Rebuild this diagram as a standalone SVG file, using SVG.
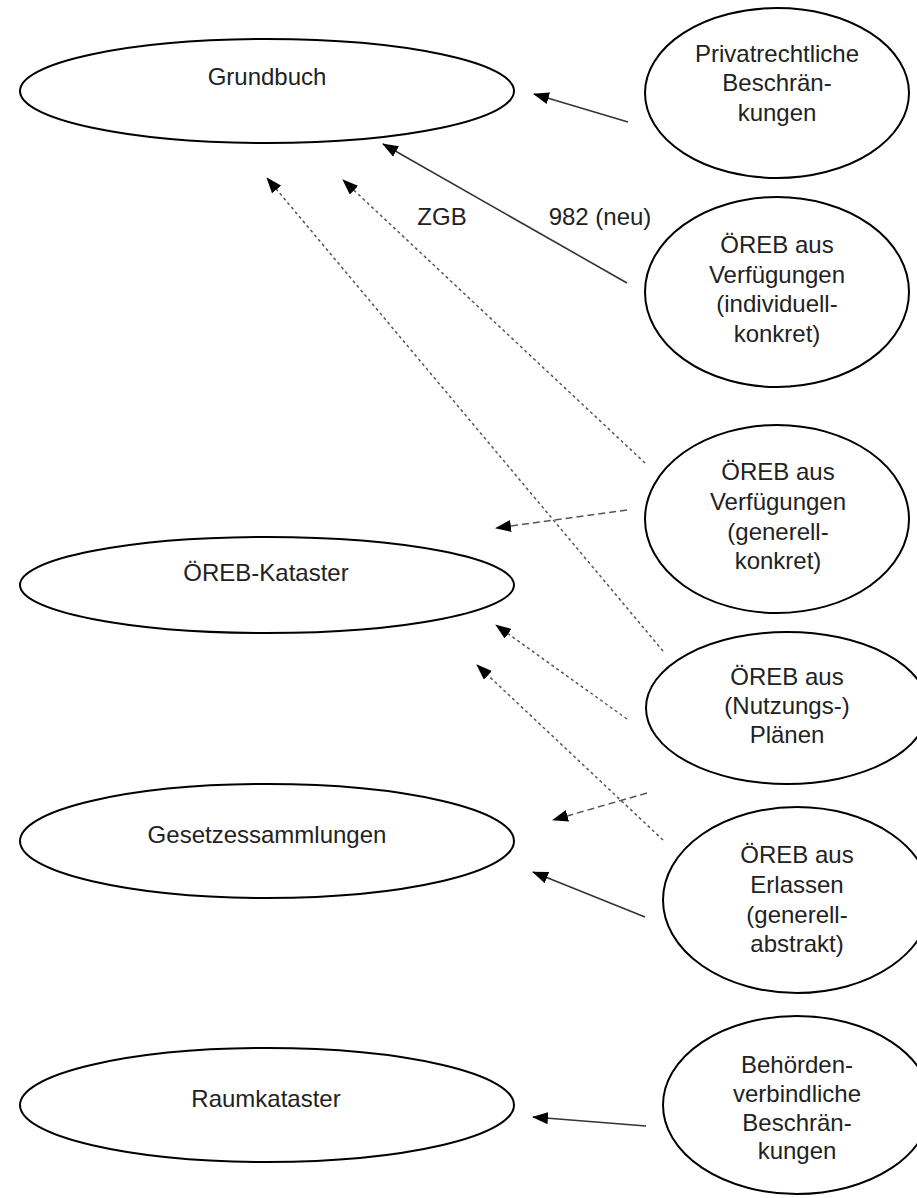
<svg xmlns="http://www.w3.org/2000/svg" width="917" height="1198" viewBox="0 0 917 1198">
<style>
.node ellipse{fill:#fff;stroke:#000;stroke-width:2}
text{font-family:"Liberation Sans",Arial,sans-serif;font-size:24px;fill:#222;text-anchor:middle}
.solid{stroke:#333;stroke-width:1.6;fill:none}
.dot{stroke:#555;stroke-width:1.5;stroke-dasharray:3 3;fill:none}
.dash{stroke:#555;stroke-width:1.5;stroke-dasharray:7 4;fill:none}
</style>
<defs>
<marker id="ah" viewBox="0 0 16 12" refX="15" refY="6" markerWidth="16" markerHeight="12" markerUnits="userSpaceOnUse" orient="auto">
<path d="M0,0 L16,6 L0,12 z" fill="#000"/>
</marker>
</defs>
<rect width="917" height="1198" fill="#fff"/>

<g id="connectors">
<line class="solid" x1="628" y1="122" x2="534" y2="94" marker-end="url(#ah)"/>
<line class="solid" x1="627" y1="283" x2="383" y2="144" marker-end="url(#ah)"/>
<line class="dot" x1="645" y1="463" x2="343" y2="180" marker-end="url(#ah)"/>
<line class="dot" x1="663" y1="651" x2="267" y2="178" marker-end="url(#ah)"/>
<line class="dash" x1="627" y1="510" x2="496" y2="528" marker-end="url(#ah)"/>
<line class="dot" x1="627" y1="719" x2="496" y2="625" marker-end="url(#ah)"/>
<line class="dot" x1="663" y1="840" x2="477" y2="665" marker-end="url(#ah)"/>
<line class="dash" x1="647" y1="793" x2="553" y2="820" marker-end="url(#ah)"/>
<line class="solid" x1="645" y1="917" x2="533" y2="872" marker-end="url(#ah)"/>
<line class="solid" x1="646" y1="1126" x2="533" y2="1117" marker-end="url(#ah)"/>
<text x="442" y="225">ZGB</text>
<text x="600" y="225">982 (neu)</text>
</g>

<g id="grundbuch" class="node">
<ellipse cx="267" cy="91" rx="247" ry="52"/>
<text x="267" y="85">Grundbuch</text>
</g>
<g id="oereb-kataster" class="node">
<ellipse cx="267" cy="585" rx="247" ry="48"/>
<text x="266" y="581">ÖREB-Kataster</text>
</g>
<g id="gesetzessammlungen" class="node">
<ellipse cx="267" cy="841" rx="247" ry="57"/>
<text x="267" y="843">Gesetzessammlungen</text>
</g>
<g id="raumkataster" class="node">
<ellipse cx="267" cy="1105" rx="247" ry="57"/>
<text x="266" y="1107">Raumkataster</text>
</g>

<g id="privatrechtliche" class="node">
<ellipse cx="777" cy="93" rx="132" ry="85"/>
<text x="777" y="62">Privatrechtliche</text>
<text x="777" y="91">Beschrän-</text>
<text x="777" y="121">kungen</text>
</g>
<g id="oereb-individuell" class="node">
<ellipse cx="777" cy="292" rx="132" ry="95"/>
<text x="777" y="253">ÖREB aus</text>
<text x="777" y="283">Verfügungen</text>
<text x="777" y="312">(individuell-</text>
<text x="777" y="342">konkret)</text>
</g>
<g id="oereb-generell-konkret" class="node">
<ellipse cx="777" cy="519" rx="132" ry="94"/>
<text x="778" y="480">ÖREB aus</text>
<text x="778" y="510">Verfügungen</text>
<text x="778" y="540">(generell-</text>
<text x="778" y="569">konkret)</text>
</g>
<g id="oereb-plaene" class="node">
<ellipse cx="787" cy="708" rx="141" ry="76"/>
<text x="787" y="685">ÖREB aus</text>
<text x="787" y="714">(Nutzungs-)</text>
<text x="787" y="743">Plänen</text>
</g>
<g id="oereb-erlassen" class="node">
<ellipse cx="797" cy="900" rx="134" ry="93"/>
<text x="797" y="863">ÖREB aus</text>
<text x="797" y="893">Erlassen</text>
<text x="797" y="923">(generell-</text>
<text x="797" y="952">abstrakt)</text>
</g>
<g id="behoerden" class="node">
<ellipse cx="797" cy="1105" rx="134" ry="89"/>
<text x="797" y="1073">Behörden-</text>
<text x="797" y="1102">verbindliche</text>
<text x="797" y="1131">Beschrän-</text>
<text x="797" y="1159">kungen</text>
</g>
</svg>
